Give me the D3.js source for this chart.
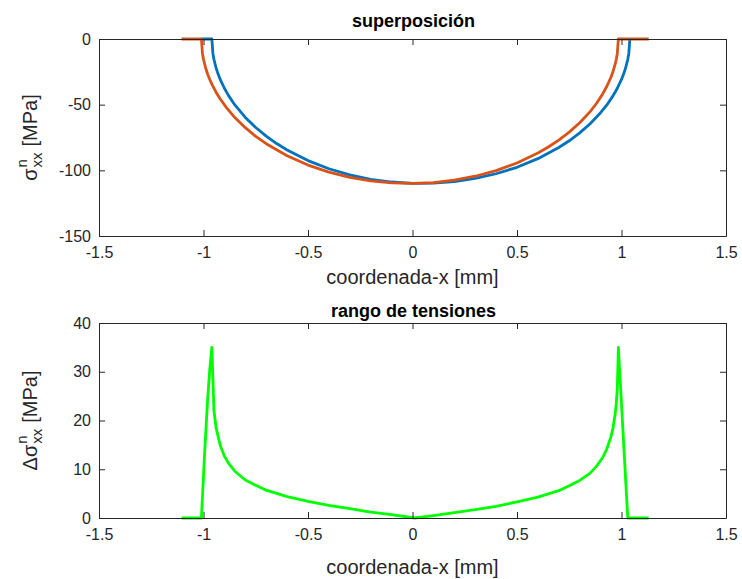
<!DOCTYPE html>
<html><head><meta charset="utf-8">
<script src="https://cdn.jsdelivr.net/npm/d3@7"></script>
<style>body{margin:0;background:#fff}svg{font-family:"Liberation Sans",Arial,sans-serif}text{white-space:pre}</style>
</head><body>
<svg id="c" width="742" height="579"></svg>
<script>
// ---- data ----
const xTicks = [-1.5, -1, -0.5, 0, 0.5, 1, 1.5];
const xTickLabels = ["-1.5", "-1", "-0.5", "0", "0.5", "1", "1.5"];
const yTicksTop = [0, -50, -100, -150];
const yTickLabelsTop = ["0", "-50", "-100", "-150"];
const yTicksBottom = [0, 10, 20, 30, 40];
const yTickLabelsBottom = ["0", "10", "20", "30", "40"];

const blueX = [-1.01, -0.96, -0.955, -0.95, -0.94, -0.93, -0.92, -0.90, -0.88, -0.85, -0.80, -0.75, -0.70, -0.65, -0.60, -0.50, -0.40, -0.30, -0.20, -0.10, 0, 0.10, 0.20, 0.30, 0.40, 0.50, 0.60, 0.70, 0.75, 0.80, 0.85, 0.90, 0.93, 0.96, 0.98, 1.00, 1.01, 1.02, 1.03, 1.035, 1.04];
const blueY = [0, 0, -11.0, -15.5, -21.9, -26.7, -30.8, -37.5, -43.1, -50.2, -59.7, -67.4, -74.0, -79.6, -84.5, -92.6, -98.8, -103.4, -106.8, -108.9, -109.9, -109.8, -108.6, -106.2, -102.6, -97.7, -91.1, -82.6, -77.5, -71.5, -64.5, -56.1, -50.2, -43.1, -37.5, -30.8, -26.7, -21.9, -15.5, -11.0, 0];

const orangeX = [-1.105, -1.01, -1.005, -1.0, -0.99, -0.98, -0.97, -0.96, -0.94, -0.92, -0.89, -0.85, -0.80, -0.75, -0.70, -0.60, -0.50, -0.40, -0.30, -0.20, -0.10, 0, 0.10, 0.20, 0.30, 0.40, 0.50, 0.60, 0.65, 0.70, 0.75, 0.80, 0.85, 0.88, 0.91, 0.93, 0.95, 0.96, 0.97, 0.975, 0.98, 0.985, 1.13];
const orangeY = [0, 0, -11.0, -15.5, -21.9, -26.8, -30.8, -34.4, -40.5, -45.7, -52.3, -59.8, -67.5, -74.1, -79.7, -88.9, -96.0, -101.4, -105.3, -108.0, -109.6, -110.0, -109.3, -107.5, -104.5, -100.2, -94.4, -86.8, -82.2, -77.0, -70.9, -63.8, -55.3, -49.1, -41.8, -36.0, -28.9, -24.5, -19.0, -15.5, -11.0, 0, 0];

const greenX = [-1.105, -1.01, -0.995, -0.98, -0.97, -0.96, -0.95, -0.94, -0.92, -0.90, -0.88, -0.85, -0.80, -0.75, -0.70, -0.60, -0.50, -0.40, -0.30, -0.20, -0.10, 0.01, 0.10, 0.20, 0.30, 0.40, 0.50, 0.60, 0.70, 0.75, 0.80, 0.85, 0.88, 0.91, 0.93, 0.95, 0.96, 0.97, 0.975, 0.98, 0.985, 1.03, 1.13];
const greenY = [0, 0, 13.0, 24.5, 30.5, 35.0, 22.1, 18.6, 14.9, 12.7, 11.2, 9.6, 7.8, 6.7, 5.7, 4.4, 3.4, 2.6, 1.9, 1.2, 0.7, 0, 0.5, 1.1, 1.7, 2.4, 3.3, 4.3, 5.6, 6.6, 7.7, 9.2, 10.6, 12.4, 14.2, 16.7, 18.6, 21.4, 23.5, 26.5, 35.0, 0, 0];

// ---- drawing ----
const svg = d3.select("#c");
svg.append("rect").attr("width", 742).attr("height", 579).attr("fill", "#fff");
const axisCol = "#262626";
const L = 99, R = 726;
const tickFont = 16, labFont = 20;

function panel(o) {
  const x = d3.scaleLinear().domain([-1.5, 1.5]).range([L, R]);
  const y = d3.scaleLinear().domain(o.yDomain).range([o.bottom, o.top]);
  const g = svg.append("g");

  o.series.forEach(s => {
    const line = d3.line().x((d, i) => x(s.x[i])).y((d, i) => y(s.y[i]));
    g.append("path").datum(s.y).attr("d", line).attr("fill", "none")
      .attr("stroke", s.color).attr("stroke-width", 2.8).attr("stroke-linejoin", "round");
  });

  const tl = 6;
  const axB = g.append("g").attr("transform", `translate(0,${o.bottom})`)
    .call(d3.axisBottom(x).tickValues(xTicks).tickFormat((d, i) => xTickLabels[i]).tickSizeInner(-tl).tickSizeOuter(0).tickPadding(11));
  const axT = g.append("g").attr("transform", `translate(0,${o.top})`)
    .call(d3.axisTop(x).tickValues(xTicks).tickFormat("").tickSizeInner(-tl).tickSizeOuter(0));
  const axL = g.append("g").attr("transform", `translate(${L},0)`)
    .call(d3.axisLeft(y).tickValues(o.yTicks).tickFormat((d, i) => o.yTickLabels[i]).tickSizeInner(-tl).tickSizeOuter(0).tickPadding(8));
  const axR = g.append("g").attr("transform", `translate(${R},0)`)
    .call(d3.axisRight(y).tickValues(o.yTicks).tickFormat("").tickSizeInner(-tl).tickSizeOuter(0));
  [axB, axT, axL, axR].forEach(a => {
    a.select(".domain").attr("stroke", axisCol).attr("stroke-width", 1);
    a.selectAll(".tick line").attr("stroke", axisCol);
    a.selectAll("text").attr("fill", axisCol).attr("font-size", tickFont).attr("font-family", "Liberation Sans, Arial, sans-serif");
  });
  axB.selectAll("text").attr("dy", "0.71em");

  g.append("text").attr("x", (L + R) / 2 + 1).attr("y", o.titleY).attr("text-anchor", "middle")
    .attr("font-weight", "bold").attr("font-size", 18).attr("fill", "#000").text(o.title);
  g.append("text").attr("x", (L + R) / 2).attr("y", o.xlabY).attr("text-anchor", "middle")
    .attr("font-size", labFont).attr("fill", axisCol).text("coordenada-x [mm]");

  const yl = g.append("g").attr("transform", `translate(37,${(o.top + o.bottom) / 2}) rotate(-90)`);
  const inner = yl.append("g");
  let cx = 0;
  const put = (t, fs, dy) => {
    const el = inner.append("text").attr("x", cx).attr("y", dy).attr("font-size", fs).attr("fill", axisCol).text(t);
    return el.node().getComputedTextLength();
  };
  cx += put(o.prefix, labFont, 0);
  cx += 1;
  const wSup = put("n", 15, -10);
  const wSub = put("xx", 15, 5);
  cx += Math.max(wSup, wSub) + 6;
  cx += put("[MPa]", labFont, 0);
  inner.attr("transform", `translate(${-cx / 2},0)`);
}

panel({
  top: 39, bottom: 236, yDomain: [-150, 0], yTicks: yTicksTop, yTickLabels: yTickLabelsTop,
  title: "superposición", titleY: 27, xlabY: 284, prefix: "σ",
  series: [{ x: blueX, y: blueY, color: "#0072BD" }, { x: orangeX, y: orangeY, color: "#D95319" }]
});
panel({
  top: 323, bottom: 518, yDomain: [0, 40], yTicks: yTicksBottom, yTickLabels: yTickLabelsBottom,
  title: "rango de tensiones", titleY: 317, xlabY: 574, prefix: "Δσ",
  series: [{ x: greenX, y: greenY, color: "#00FF00" }]
});
</script>
</body></html>
